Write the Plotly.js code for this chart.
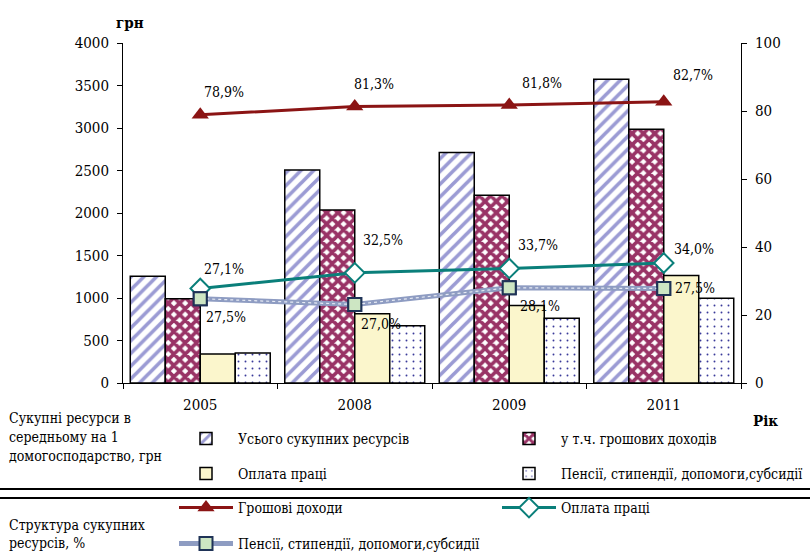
<!DOCTYPE html>
<html>
<head>
<meta charset="utf-8">
<script src="https://cdn.plot.ly/plotly-3.0.1.min.js"></script>
<style>html,body{margin:0;padding:0;background:#fff;}#chart{width:810px;height:552px;}</style>
</head>
<body>
<div id="chart"></div>
<script>
// ---- data ----
const years = ['2005', '2008', '2009', '2011'];
const totalResources = [1256, 2505, 2712, 3574];
const moneyIncome = [990, 2034, 2210, 2985];
const wagesUAH = [342, 815, 911, 1264];
const pensionsUAH = [353, 673, 761, 997];
const moneyShare = [78.9, 81.3, 81.8, 82.7];
const wageShare = [27.8, 32.4, 33.7, 35.3];
const pensionShare = [24.8, 23.1, 28.0, 27.8];
const moneyLabels = ['78,9%', '81,3%', '81,8%', '82,7%'];
const wageLabels = ['27,1%', '32,5%', '33,7%', '34,0%'];
const pensionLabels = ['27,5%', '27,0%', '28,1%', '27,5%'];

// ---- styles / layout constants ----
const FONT = 'DejaVu Serif Condensed';
const FS_TICK = 15;
const FS = 14;
const W = 810, H = 552;
const L = 123, R = 69, T = 43, B = 169;
const PW = W - L - R, PH = H - T - B;
const px = x => (x - L) / PW;
const py = y => (H - B - y) / PH;

const barLine = {color: '#000', width: 1.5};
const traces = [
  {type: 'bar', x: years, y: totalResources, name: 'Усього сукупних ресурсів', legend: 'legend',
   marker: {color: '#fff', line: barLine, pattern: {shape: '/', fgcolor: '#9b9bd4', bgcolor: '#fff', size: 9, solidity: 0.4}}},
  {type: 'bar', x: years, y: moneyIncome, name: 'у т.ч. грошових доходів', legend: 'legend2',
   marker: {color: '#fff', line: barLine, pattern: {shape: 'x', fgcolor: '#993366', bgcolor: '#fff', size: 8, solidity: 0.7}}},
  {type: 'bar', x: years, y: wagesUAH, name: 'Оплата праці', legend: 'legend3',
   marker: {color: '#fbf6cc', line: barLine}},
  {type: 'bar', x: years, y: pensionsUAH, name: 'Пенсії, стипендії, допомоги,субсидії', legend: 'legend4',
   marker: {color: '#fff', line: barLine, pattern: {shape: '.', fgcolor: '#3a3a9a', bgcolor: '#fff', size: 7, solidity: 0.06}}},
  {type: 'scatter', mode: 'lines+markers', x: years, y: moneyShare, yaxis: 'y2', name: 'Грошові доходи', legend: 'legend5',
   line: {color: '#8b1414', width: 3}, marker: {symbol: 'triangle-up', size: 15, color: '#8b1414'}},
  {type: 'scatter', mode: 'lines+markers', x: years, y: wageShare, yaxis: 'y2', name: 'Оплата праці', legend: 'legend6',
   line: {color: '#0a7f7a', width: 3}, marker: {symbol: 'diamond', size: 15, color: '#fff', line: {color: '#0a7f7a', width: 2}}},
  {type: 'scatter', mode: 'lines+markers', x: years, y: pensionShare, yaxis: 'y2', name: 'Пенсії, стипендії, допомоги,субсидії', legend: 'legend7',
   line: {color: '#8e9cc2', width: 5}, marker: {symbol: 'square', size: 13, color: '#cde6c3', line: {color: '#1f3357', width: 2}}},
  {type: 'scatter', mode: 'lines', x: years, y: pensionShare, yaxis: 'y2', showlegend: false, hoverinfo: 'skip',
   line: {color: '#e6eaf4', width: 1.2, dash: 'dot'}},
  {type: 'scatter', mode: 'markers', x: years, y: pensionShare, yaxis: 'y2', showlegend: false, hoverinfo: 'skip',
   marker: {symbol: 'square', size: 13, color: '#cde6c3', line: {color: '#1f3357', width: 2}}}
];

const labelShift = {
  money: [[24, 23], [19, 23], [33, 22], [29, 27]],
  wage: [[24, 19], [28, 33], [29, 23], [30, 14]],
  pension: [[26, -18], [26, -20], [31, -18], [31, 0]]
};
const annotations = [];
function addLabels(vals, texts, shifts) {
  vals.forEach((v, i) => annotations.push({
    x: i, y: v, xref: 'x', yref: 'y2', text: texts[i], showarrow: false,
    xshift: shifts[i][0], yshift: shifts[i][1], font: {family: FONT, size: FS, color: '#000'}
  }));
}
addLabels(moneyShare, moneyLabels, labelShift.money);
addLabels(wageShare, wageLabels, labelShift.wage);
addLabels(pensionShare, pensionLabels, labelShift.pension);

function txt(text, x, y, opts) {
  annotations.push(Object.assign({
    text: text, x: px(x), y: py(y), xref: 'paper', yref: 'paper', showarrow: false,
    xanchor: 'left', yanchor: 'middle', font: {family: FONT, size: FS, color: '#000'}
  }, opts || {}));
}
txt('<b>грн</b>', 130, 23, {xanchor: 'center', font: {family: FONT, size: 15, color: '#000'}});
txt('<b>Рік</b>', 765, 421, {xanchor: 'center', font: {family: FONT, size: 15, color: '#000'}});
txt('Сукупні ресурси в', 7, 418);
txt('середньому на 1', 7, 437);
txt('домогосподарство, грн', 7, 456);
txt('Структура сукупних', 7, 525);
txt('ресурсів, %', 7, 543);

const shapes = [489, 498].map(y => ({
  type: 'line', xref: 'paper', yref: 'paper', x0: px(0), x1: px(810), y0: py(y), y1: py(y),
  line: {color: '#000', width: 2}
}));

function leg(x, y) {
  return {x: x / W, y: 1 - y / H, xref: 'container', yref: 'container', xanchor: 'left', yanchor: 'middle',
    orientation: 'h', bgcolor: 'rgba(0,0,0,0)', font: {family: FONT, size: FS, color: '#000'}, itemwidth: 54};
}

const layout = {
  width: W, height: H,
  margin: {l: L, r: R, t: T, b: B, pad: 0},
  paper_bgcolor: '#fff', plot_bgcolor: '#fff',
  font: {family: FONT, size: FS, color: '#000'},
  barmode: 'group', bargap: 0.094, bargroupgap: 0,
  showlegend: true,
  xaxis: {type: 'category', tickson: 'boundaries', ticks: 'outside', ticklen: 5, tickcolor: '#000',
    showline: true, linecolor: '#000', linewidth: 1, showgrid: false, ticklabelstandoff: 8,
    tickfont: {family: FONT, size: FS_TICK}},
  yaxis: {range: [0, 4000], dtick: 500, ticks: 'outside', ticklen: 5, tickcolor: '#000',
    showline: true, linecolor: '#000', linewidth: 1, showgrid: false, zeroline: false,
    ticklabelstandoff: 5, tickfont: {family: FONT, size: FS_TICK}},
  yaxis2: {range: [0, 100], dtick: 20, overlaying: 'y', side: 'right', ticks: 'outside', ticklen: 5, tickcolor: '#000',
    showline: true, linecolor: '#000', linewidth: 1, showgrid: false, zeroline: false,
    ticklabelstandoff: 5, tickfont: {family: FONT, size: FS_TICK}},
  legend: leg(174, 439),
  legend2: leg(497, 439),
  legend3: leg(174, 474),
  legend4: leg(497, 474),
  legend5: leg(174, 508),
  legend6: leg(497, 508),
  legend7: leg(174, 544),
  annotations: annotations,
  shapes: shapes
};

Plotly.newPlot('chart', traces, layout, {staticPlot: true, displayModeBar: false});
</script>
</body>
</html>
